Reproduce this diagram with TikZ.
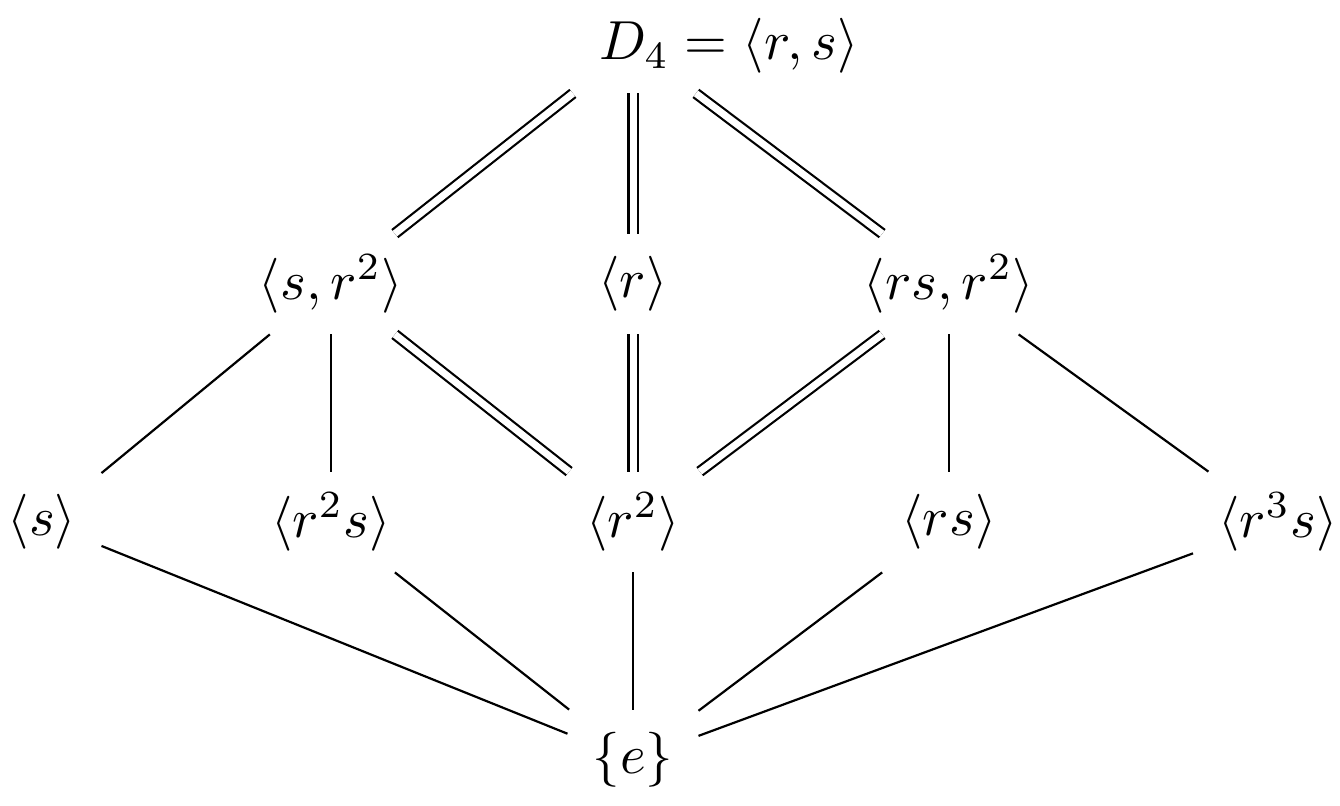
\documentclass[tikz,border=0pt]{standalone}
\usepackage{graphicx}
\newcommand{\grptxt}[1]{\scalebox{2.75}{\normalsize$#1$}}
\begin{document}
\begin{tikzpicture}[x=0.5pt,y=-0.5pt,
  grp/.style={inner xsep=12.4pt, inner ysep=0pt, minimum height=50pt},
  hub/.style={minimum width=70pt, minimum height=47pt, inner sep=0pt},
  link/.style={line width=1.1pt},
  eqlink/.style={line width=1.1pt, double, double distance=3.5pt}]
\useasboundingbox (0,0) rectangle (1340,805);
% top
\node[hub] (top) at (633,46) {};
\node[grp] (toplabel) at (729,46) {\grptxt{D_4=\langle r,s\rangle}};
% row 2
\node[grp] (srr) at (331,284) {\grptxt{\langle s,r^2\rangle}};
\node[grp] (r) at (633,284) {\grptxt{\langle r\rangle}};
\node[grp] (rsr) at (949,284) {\grptxt{\langle rs,r^2\rangle}};
% row 3
\node[grp] (s) at (42,522) {\grptxt{\langle s\rangle}};
\node[grp] (rrs) at (331,522) {\grptxt{\langle r^2s\rangle}};
\node[grp] (rr) at (633,522) {\grptxt{\langle r^2\rangle}};
\node[grp] (rs) at (949,522) {\grptxt{\langle rs\rangle}};
\node[grp] (rrrs) at (1278,522) {\grptxt{\langle r^3s\rangle}};
% bottom
\node[grp] (e) at (633,760) {\grptxt{\{e\}}};
% double connectors
\draw[eqlink] (top) -- (srr);
\draw[eqlink] (top) -- (r);
\draw[eqlink] (top) -- (rsr);
\draw[eqlink] (srr) -- (rr);
\draw[eqlink] (r) -- (rr);
\draw[eqlink] (rsr) -- (rr);
% single connectors
\draw[link] (srr) -- (s);
\draw[link] (srr) -- (rrs);
\draw[link] (rsr) -- (rs);
\draw[link] (rsr) -- (rrrs);
\draw[link] (s) -- (e);
\draw[link] (rrs) -- (e);
\draw[link] (rr) -- (e);
\draw[link] (rs) -- (e);
\draw[link] (rrrs) -- (e);
\end{tikzpicture}
\end{document}
